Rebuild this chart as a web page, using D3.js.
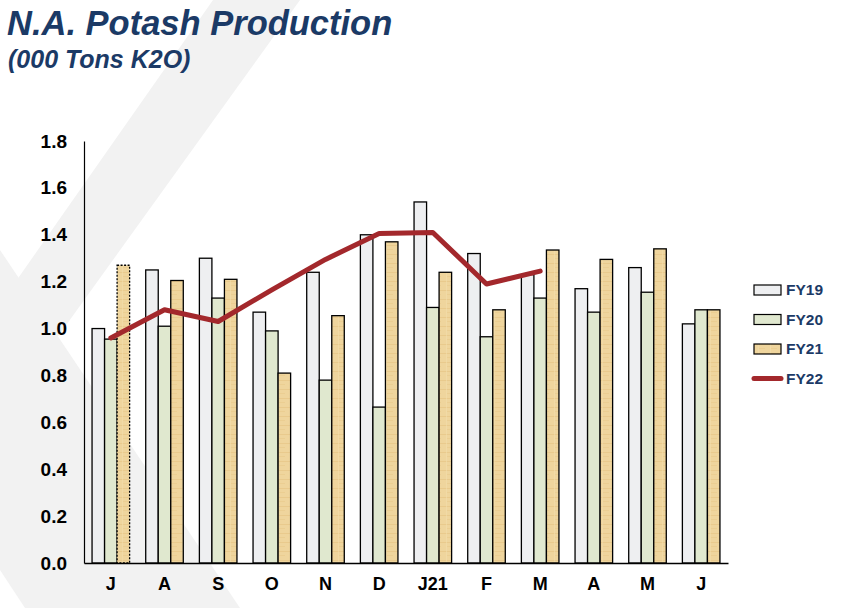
<!DOCTYPE html>
<html>
<head>
<meta charset="utf-8">
<script src="https://cdn.jsdelivr.net/npm/d3@7"></script>
<style>
body{margin:0;background:#fff}
</style>
</head>
<body>
<div id="viz"></div>
<script>
//Chart data

let months = ["J","A","S","O","N","D","J21","F","M","A","M","J"]
let seriesNames = ["FY19","FY20","FY21"]
let fy19 = [1.00, 1.25, 1.30, 1.07, 1.24, 1.40, 1.54, 1.32, 1.23, 1.17, 1.26, 1.02]
let fy20 = [0.955, 1.01, 1.13, 0.99, 0.78, 0.665, 1.09, 0.965, 1.13, 1.07, 1.155, 1.08]
let fy21 = [1.27, 1.205, 1.21, 0.81, 1.055, 1.37, 1.24, 1.08, 1.335, 1.295, 1.34, 1.08]
let fy22 = [0.96, 1.08, 1.03, 1.165, 1.295, 1.405, 1.41, 1.19, 1.245]
let yTicks = [0, 0.2, 0.4, 0.6, 0.8, 1.0, 1.2, 1.4, 1.6, 1.8]

let width = 844
let height = 608
let navy = "#1b3a66"
let lineRed = "#a3282c"
let font = "Liberation Sans, Arial, sans-serif"

let svg = d3.select('#viz').append('svg').attr("width",width).attr("height",height)

//Background chevron
let bg = svg.append("g").attr("fill","#f2f2f2")
bg.append("polygon").attr("points","213,0 300,0 0,417 0,304")
bg.append("polygon").attr("points","0,250 240,608 25,608 0,570")

//Texture for FY21 bars
let defs = svg.append("defs")
let pat = defs.append("pattern").attr("id","tan").attr("patternUnits","userSpaceOnUse")
    .attr("width",12).attr("height",9)
pat.append("rect").attr("width",12).attr("height",9).attr("fill","#efd59d")
pat.append("rect").attr("x",0).attr("y",2).attr("width",12).attr("height",1).attr("fill","#e4c382").attr("opacity",.6)
pat.append("rect").attr("x",3).attr("y",6).attr("width",6).attr("height",1).attr("fill","#e8c98a").attr("opacity",.6)
pat.append("rect").attr("x",2).attr("y",0).attr("width",1).attr("height",9).attr("fill","#f3dfb0").attr("opacity",.5)

let fills = {"FY19":"#eeeff1","FY20":"#e0e8cf","FY21":"url(#tan)"}

//Scales
let x0 = d3.scaleBand().domain(d3.range(months.length)).range([84,728])
    .paddingInner(0.3).paddingOuter(0.15)
let x1 = d3.scaleBand().domain(seriesNames).range([0,x0.bandwidth()])
let y = d3.scaleLinear().domain([0,1.8]).range([563,141])

//Titles
svg.append("text").text("N.A. Potash Production").attr("x",7).attr("y",35)
    .attr("font-family",font).attr("font-weight","bold").attr("font-style","italic")
    .attr("font-size",34.5).attr("fill",navy)
svg.append("text").text("(000 Tons K2O)").attr("x",8).attr("y",68)
    .attr("font-family",font).attr("font-weight","bold").attr("font-style","italic")
    .attr("font-size",25).attr("fill",navy)

//Bars
let series = {"FY19":fy19,"FY20":fy20,"FY21":fy21}
seriesNames.forEach(function(name){
    svg.append("g").selectAll("rect").data(series[name]).join("rect")
        .attr("x",(d,i)=>x0(i)+x1(name)).attr("y",d=>y(d))
        .attr("width",x1.bandwidth()).attr("height",d=>y(0)-y(d))
        .attr("fill",fills[name]).attr("stroke","#000").attr("stroke-width",1.3)
        .attr("stroke-dasharray",(d,i)=>(name=="FY21" && i==0) ? "2,1.5" : null)
})

//Axes
let yAxis = svg.append("g").attr("transform","translate(84,0)")
    .call(d3.axisLeft(y).tickValues(yTicks).tickFormat(d3.format(".1f")).tickSize(0).tickPadding(17))
yAxis.select(".domain").attr("stroke","#000").attr("stroke-width",1.2)
yAxis.selectAll("text").attr("font-family",font).attr("font-weight","bold")
    .attr("font-size",19).attr("fill","#000")

let xAxis = svg.append("g").attr("transform","translate(0,563)")
    .call(d3.axisBottom(x0).tickFormat(i=>months[i]).tickSize(0).tickPadding(14))
xAxis.select(".domain").attr("stroke","#000").attr("stroke-width",1.5)
xAxis.selectAll("text").attr("font-family",font).attr("font-weight","bold")
    .attr("font-size",18).attr("fill","#000")

//FY22 line
let line = d3.line().x((d,i)=>x0(i)+x0.bandwidth()/2).y(d=>y(d))
svg.append("path").attr("d",line(fy22)).attr("fill","none").attr("stroke",lineRed)
    .attr("stroke-width",5).attr("stroke-linejoin","round").attr("stroke-linecap","round")

//Legend
let legendNames = ["FY19","FY20","FY21","FY22"]
let legend = svg.append("g")
legendNames.forEach(function(name,k){
    let ly = 290 + k*29.5
    if(name=="FY22"){
        legend.append("line").attr("x1",754).attr("x2",781).attr("y1",ly).attr("y2",ly)
            .attr("stroke",lineRed).attr("stroke-width",5).attr("stroke-linecap","round")
    }else{
        legend.append("rect").attr("x",754).attr("y",ly-5).attr("width",27).attr("height",10)
            .attr("fill",fills[name]).attr("stroke","#000").attr("stroke-width",1.2)
    }
    legend.append("text").text(name).attr("x",786).attr("y",ly+1).attr("dominant-baseline","middle")
        .attr("font-family",font).attr("font-weight","bold")
        .attr("font-size",15.5).attr("fill",navy)
})
</script>
</body>
</html>
